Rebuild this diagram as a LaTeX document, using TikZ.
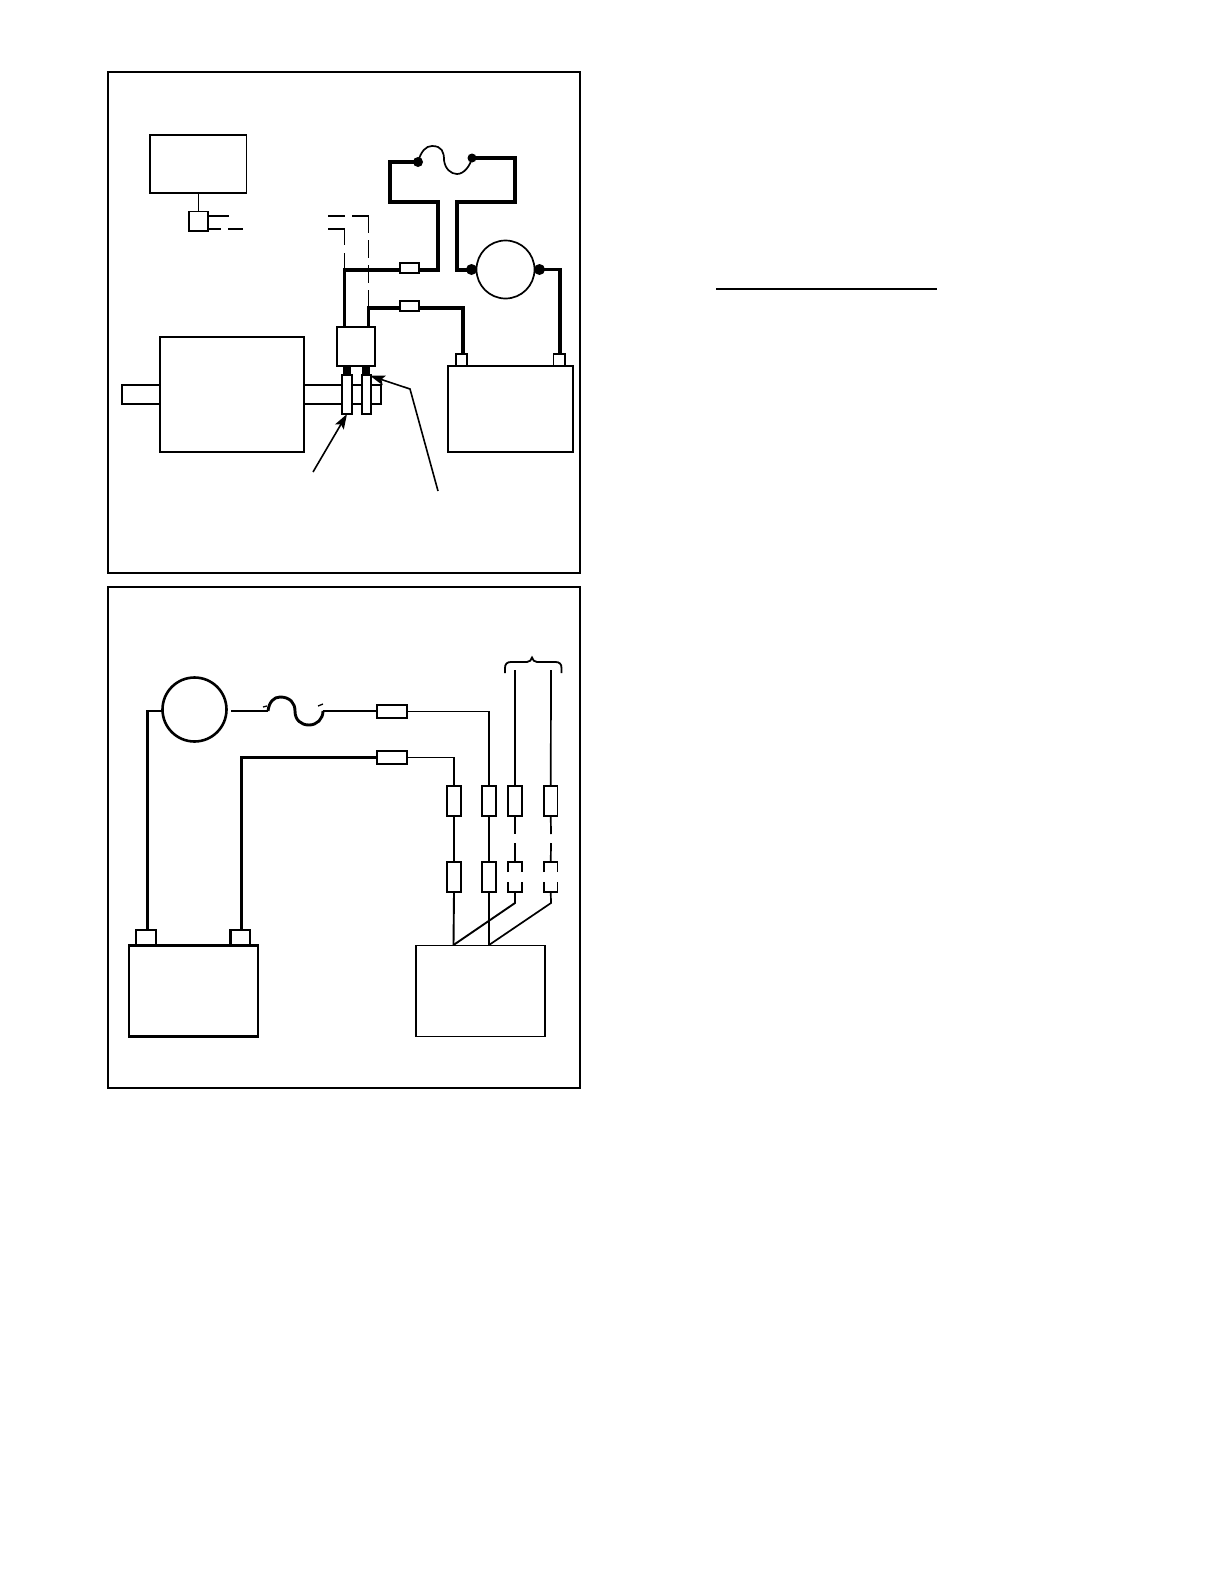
\documentclass[tikz,border=0pt]{standalone}
\usetikzlibrary{arrows.meta,calc}
\newcommand{\bx}[6][boxs]{%
  \pgfmathsetmacro\cxx{(#3+#5)/2}\pgfmathsetmacro\cyy{(#4+#6)/2}%
  \node[#1,minimum width={(#5-#3)*1pt},minimum height={(#6-#4)*1pt}] (#2) at (\cxx,\cyy) {};}
\newcommand{\brk}[2]{%
  \draw[#2] ([yshift=-10pt]#1.north west) -- (#1.north west) -- (#1.north east) -- ([yshift=-10pt]#1.north east);
  \draw[#2] ([yshift=10pt]#1.south west) -- (#1.south west) -- (#1.south east) -- ([yshift=10pt]#1.south east);}
\tikzset{
  boxs/.style={draw=black,fill=white,line width=1.7pt,inner sep=0pt,outer sep=0pt,rectangle},
  heavybox/.style={boxs,line width=2.4pt},
  ghost/.style={inner sep=0pt,outer sep=0pt,rectangle},
  thickw/.style={line width=3.8pt,line join=miter},
  midw/.style={line width=2.9pt},
  thinw/.style={line width=1.9pt},
  hair/.style={line width=1.7pt},
  dashw/.style={line width=1.8pt},
  dotn/.style={circle,fill=black,inner sep=0pt,minimum size=10pt},
  ptr/.style={line width=1.6pt,-{Stealth[length=15pt,width=10pt,inset=3pt]}}
}
\begin{document}
\begin{tikzpicture}[x=1pt,y=-1pt]
\useasboundingbox (0,0) rectangle (1224,1584);
\bx{frameA}{108}{72}{580}{573}
\bx{frameB}{108}{587}{580}{1088}

% --- upper panel ---
\bx{ctrl}{150}{135}{246.5}{193}
\bx{sens}{189}{211.5}{208}{231}
\draw[thinw] (ctrl.south -| sens.north) -- (sens.north);
\coordinate (sa) at (229,216);
\coordinate (sb) at (221,229);
\coordinate (sc) at (228,229);
\coordinate (sd) at (243,229);
\draw[thinw] (sens.east |- sa) -- (sa);
\draw[thinw] (sens.east |- sb) -- (sb);
\draw[thinw] (sc) -- (sd);

\bx{shaftL}{122}{385}{160}{404}
\bx{shaftR}{304}{385}{381}{404}
\bx{motor}{160}{337}{304}{452}

\bx{capsA}{337}{327}{375}{366}
\node[fill=black,minimum width=7.5pt,minimum height=10pt,inner sep=0pt] (stubA) at (347,370.5) {};
\node[fill=black,minimum width=7.5pt,minimum height=10pt,inner sep=0pt] (stubB) at (366,370.5) {};
\bx{clampA}{342}{375}{352}{414}
\bx{clampB}{362}{375}{371}{414}

\bx[heavybox]{batA}{448}{366}{573}{452}
\bx{termA}{456}{354}{467}{366}
\bx{termB}{553.5}{354}{565}{366}

\coordinate (ua) at (344.5,327);
\coordinate (ub) at (368.5,327);
\coordinate (fuL) at (418,162);
\coordinate (fuR) at (472,158);
% dashed leads
\draw[dashw] (328,216) -- (345,216);
\draw[dashw] (352,216) -- (368.5,216) -- (368.5,233);
\draw[dashw] (368.5,240) -- (368.5,258);
\draw[dashw] (368.5,265) -- (368.5,283);
\draw[dashw] (368.5,290) -- (ub);
\draw[dashw] (328,229) -- (344.5,229) -- (344.5,245);
\draw[dashw] (344.5,253) -- (344.5,270);

\draw[thickw] (fuL) -- (390,162) -- (390,202) -- (438,202) -- (438,270) -- (ua |- 0,270) -- (ua);
\draw[thickw] (fuR) -- (515,158) -- (515,202) -- (457,202) -- (457,270) -- (472,270);
\draw[thickw] (ub) -- (ub |- 0,308) -- (463,308) -- (463,354);
\node[dotn] (dotL) at (fuL) {};
\node[dotn,minimum size=9pt] (dotR) at (fuR) {};
\draw[hair] (fuL) .. controls (421,151) and (426,146) .. (432,146)
   .. controls (442,146) and (444,152) .. (444,160)
   .. controls (445,169) and (451,174) .. (457,174)
   .. controls (464,174) and (470,166) .. (fuR);
\bx{inlA}{400}{263}{419}{273}
\bx{inlB}{400}{301}{419}{311}
\node[dotn,minimum size=11pt] (dotG) at (471.5,269.5) {};
\node[dotn,minimum size=11pt] (dotH) at (539.5,269.5) {};
\node[draw=black,fill=white,line width=1.7pt,circle,inner sep=0pt,minimum size=58pt] (gen) at (505.5,269.5) {};
\draw[thickw] (dotH.center) -- (560,269.5) -- (termB.north -| 560,0);

\coordinate (la) at (313,472);
\coordinate (lb) at (438,491);
\coordinate (lc) at (410,389);
\draw[ptr] (la) -- (clampA.south);
\draw[ptr,line join=miter] (lb) -- (lc) -- (stubB.south east);

% --- underline ---
\coordinate (ulA) at (716,289);
\coordinate (ulB) at (937,289);
\draw[thinw] (ulA) -- (ulB);

% --- lower panel ---
\bx[heavybox]{batB}{129}{945.5}{258}{1036.5}
\bx[heavybox]{termC}{136}{930}{156}{945.5}
\bx[heavybox]{termD}{230.5}{930}{250}{945.5}
\bx{load}{416}{945.5}{545}{1036.5}
\node[draw=black,fill=white,line width=2.6pt,circle,inner sep=0pt,minimum size=64pt] (alt) at (194.5,709.5) {};
\bx{fA}{377}{705}{407}{718}
\bx{fB}{377}{751}{407}{764}
\bx{rA}{447}{786}{461}{816}
\bx{rB}{482}{786}{496}{816}
\bx{rC}{508}{786}{522}{816}
\bx{rD}{544}{786}{557.5}{816}
\bx{sA}{447}{862}{461}{892}
\bx{sB}{482}{862}{496}{892}
\bx[ghost]{sC}{508}{862}{522}{892}
\bx[ghost]{sD}{544}{862}{557.5}{892}

\coordinate (loadA) at (453.5,945);
\coordinate (loadB) at (489,945);
\coordinate (wA) at (147.5,711);
\coordinate (wB) at (231,711);
\coordinate (wC) at (268,711);
\coordinate (wD) at (323,711);

\draw[midw] (162,711) -- (wA) -- (wA |- termC.north);
\draw[midw] (wB) -- (wC);
\draw[midw] (wD) -- (fA.west |- wD);
\draw[midw] (fB.west) -- (241.5,757.5) -- (241.5,930);
\draw[midw] (wC) .. controls (269,702) and (274,697) .. (280,697)
   .. controls (290,697) and (295,703) .. (295,711)
   .. controls (295,720) and (301,725) .. (309,725)
   .. controls (317,725) and (323,719) .. (wD);
\draw[line width=1.3pt] (263,707) -- (267,706);
\draw[line width=1.3pt] (318,706) -- (323,704);

\draw[hair] (fA.east) -- (rB.north |- fA.east) -- (rB.north);
\draw[hair] (fB.east) -- (rA.north |- fB.east) -- (rA.north);
\draw[thinw] (rA) -- (sA);
\draw[thinw] (rB) -- (sB);
\draw[thinw] (sA.south) -- (loadA);
\draw[thinw] (sB.south) -- (loadB);

\coordinate (topC) at (515,670);
\coordinate (topD) at (551,670);
\draw[thinw] (topC) -- (rC.north);
\draw[hair] (topD) -- (rD.north);
\draw[thinw] (rC.south) -- (515,834);
\draw[thinw] (515,843) -- (sC.north);
\draw[hair] (rD.south) -- (551,834);
\draw[hair] (551,843) -- (sD.north);
\brk{sC}{thinw}
\brk{sD}{thinw}
\draw[thinw] (sC.south) -- (515,903) -- (loadA);
\draw[hair] (sD.south) -- (551,903) -- (loadB);

\coordinate (brL) at (505,673);
\coordinate (brR) at (561.5,673);
\coordinate (brT) at (532,657.5);
\draw[line width=1.8pt] (brL) -- (505,668) .. controls (505,664) and (507,662) .. (511,662)
  -- (527,662) .. controls (530,662) and (531,660) .. (brT)
  .. controls (533,660) and (534,662) .. (537,662)
  -- (555.5,662) .. controls (559.5,662) and (561.5,664) .. (561.5,668) -- (brR);
\end{tikzpicture}
\end{document}
